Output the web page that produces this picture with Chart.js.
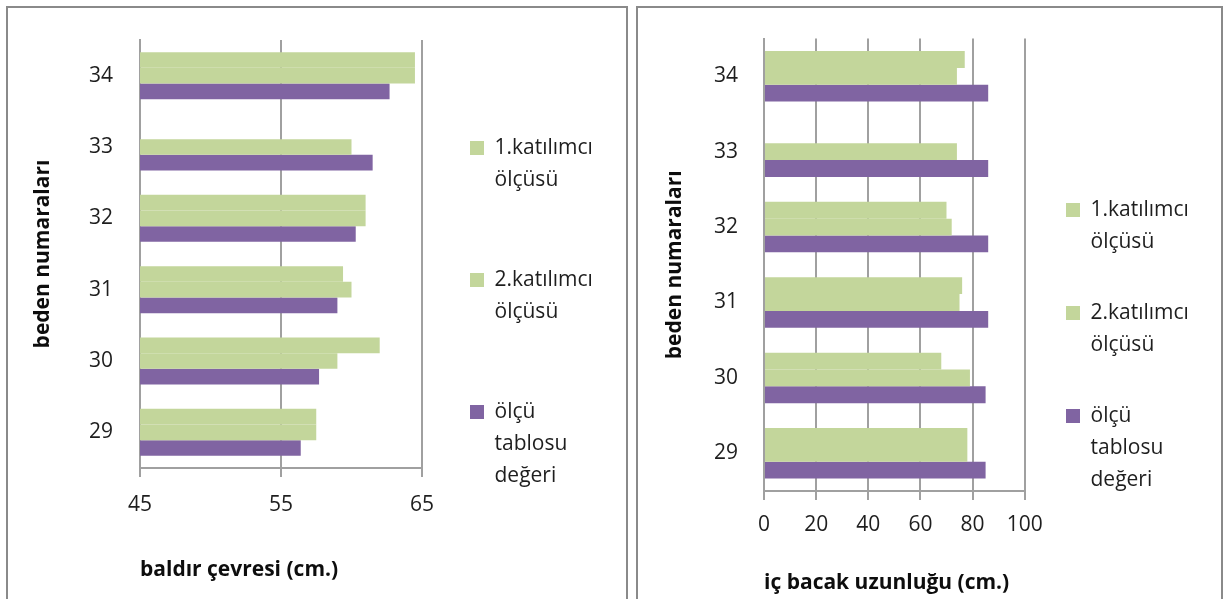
<!DOCTYPE html>
<html><head><meta charset="utf-8">
<script src="https://cdn.jsdelivr.net/npm/chart.js@4.4.1/dist/chart.umd.min.js"></script>
<style>
html,body{margin:0;padding:0;background:#fff;width:1229px;height:599px;overflow:hidden;position:relative}
.panel{position:absolute;border:2px solid #8a8a8a;box-sizing:border-box;}
#p1{left:6px;top:6px;width:622px;height:640px}
#p2{left:636px;top:6px;width:587px;height:640px}
canvas{position:absolute;top:0}
#c1{left:0}
#c2{left:630px}
</style></head><body>
<div class="panel" id="p1"></div><div class="panel" id="p2"></div>
<canvas id="c1" width="630" height="599"></canvas>
<canvas id="c2" width="599" height="599"></canvas>
<script>
// categories, top to bottom as shown
const categories = ['34', '33', '32', '31', '30', '29'];
const seriesNames = ['1.katılımcı ölçüsü', '2.katılımcı ölçüsü', 'ölçü tablosu değeri'];

// baldır çevresi (cm.)
const baldirK1 = [64.5, null, 61.0, 59.4, 62.0, 57.5];
const baldirK2 = [64.5, 60.0, 61.0, 60.0, 59.0, 57.5];
const baldirTablo = [62.7, 61.5, 60.3, 59.0, 57.7, 56.4];
const baldirTicks = [45, 55, 65];

// iç bacak uzunluğu (cm.)
const bacakK1 = [77, null, 70, 76, 68, 78];
const bacakK2 = [74, 74, 72, 75, 79, 78];
const bacakTablo = [86, 86, 86, 86, 85, 85];
const bacakTicks = [0, 20, 40, 60, 80, 100];

const yTitle = 'beden numaraları';
const xTitleLeft = 'baldır çevresi (cm.)';
const xTitleRight = 'iç bacak uzunluğu (cm.)';

const GREEN = '#c3d69b', PURPLE = '#8064a2';
const FONT = "'Open Sans', 'Liberation Sans', sans-serif";
const GRID = '#a0a0a0';
const TEXT = '#1e1e1e';
const TICK_SIZE = 21, LEG_SIZE = 21, TITLE_SIZE = 21, BOX = 14, LEG_W = 140;
const SPACER = ' '.repeat(40); // invisible wide line so the legend box always takes LEG_W

function legendLines(name, n) {
  const a = name.split(' ');
  while (a.length < n - 1) a.push('');
  a.push(SPACER);
  return a;
}

function makeChart(canvas, p) {
  const W = canvas.width;
  const legendLeft = p.legendBoxX - p.legendPad;
  const padRight = W - legendLeft - LEG_W;
  return new Chart(canvas, {
    type: 'bar',
    data: {
      labels: categories,
      datasets: [
        { label: seriesNames[0], data: p.k1, backgroundColor: GREEN },
        { label: seriesNames[1], data: p.k2, backgroundColor: GREEN },
        { label: seriesNames[2], data: p.tablo, backgroundColor: PURPLE }
      ]
    },
    options: {
      indexAxis: 'y',
      responsive: false,
      animation: false,
      devicePixelRatio: 1,
      categoryPercentage: p.catPct,
      barPercentage: 1.0,
      layout: { padding: { top: p.top, left: 0, right: padRight, bottom: 0 } },
      scales: {
        x: {
          min: p.ticks[0], max: p.ticks[p.ticks.length - 1],
          ticks: { stepSize: p.ticks[1] - p.ticks[0], padding: p.xTickPad, color: TEXT,
                   font: { family: FONT, size: TICK_SIZE } },
          grid: { color: GRID, lineWidth: 2, tickLength: 9, drawTicks: true },
          border: { display: true, color: GRID, width: 2 },
          title: { display: true, text: p.xTitle, align: 'start', color: '#0d0d0d',
                   font: { family: FONT, size: TITLE_SIZE, weight: 'bold' },
                   padding: { top: 0, bottom: p.xTitlePad } },
          afterFit: s => { s.height = p.xHeight; }
        },
        y: {
          grid: { display: false, drawTicks: false },
          border: { display: true, color: GRID, width: 2 },
          ticks: { padding: p.yTickPad, color: TEXT, font: { family: FONT, size: TICK_SIZE } },
          title: { display: true, text: yTitle, color: '#0d0d0d',
                   font: { family: FONT, size: TITLE_SIZE, weight: 'bold' },
                   padding: { top: p.yTitlePad, bottom: 0 } },
          afterFit: s => { s.width = p.yWidth; }
        },
        gap: {
          type: 'category', axis: 'y', position: 'right', display: true,
          grid: { display: false, drawTicks: false }, border: { display: false },
          ticks: { display: false },
          afterFit: s => { s.width = legendLeft - p.plotRight; }
        }
      },
      plugins: {
        tooltip: { enabled: false },
        legend: {
          position: 'right', align: 'start', maxWidth: LEG_W,
          title: { display: true, text: '', font: { size: 10, lineHeight: 1 },
                   padding: { top: p.legendTitleH - 10, bottom: 0 } },
          labels: {
            boxWidth: BOX, boxHeight: BOX, padding: p.legendPad, color: TEXT,
            font: { family: FONT, size: LEG_SIZE, lineHeight: 32 / LEG_SIZE },
            generateLabels: chart => {
              const items = Chart.defaults.plugins.legend.labels.generateLabels(chart);
              items.forEach(it => { it.text = legendLines(it.text, p.lines); });
              return items;
            }
          }
        }
      }
    }
  });
}

makeChart(document.getElementById('c1'), {
  k1: baldirK1, k2: baldirK2, tablo: baldirTablo, ticks: baldirTicks, xTitle: xTitleLeft,
  catPct: 0.66, top: 40, xTickPad: 15.4, xTitlePad: 16.4, xHeight: 131,
  yTickPad: 27, yTitlePad: 30.4, yWidth: 140, plotRight: 422,
  legendBoxX: 470, legendTitleH: 93.5, legendPad: 4, lines: 4
});
makeChart(document.getElementById('c2'), {
  k1: bacakK1, k2: bacakK2, tablo: bacakTablo, ticks: bacakTicks, xTitle: xTitleRight,
  catPct: 0.67, top: 36, xTickPad: 12.4, xTitlePad: 3.4, xHeight: 108,
  yTickPad: 26, yTitlePad: 32.4, yWidth: 134, plotRight: 394.7,
  legendBoxX: 436, legendTitleH: 156.5, legendPad: 7, lines: 3
});
</script>
</body></html>
